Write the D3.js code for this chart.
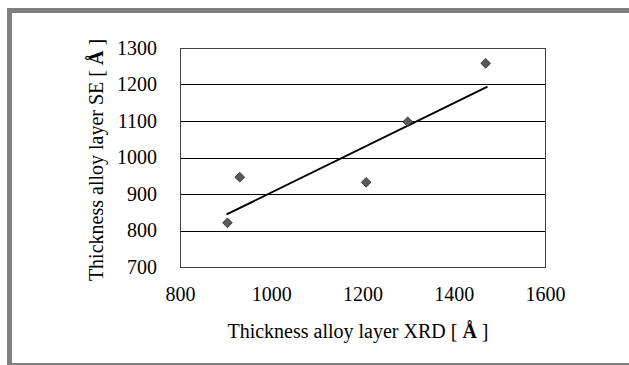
<!DOCTYPE html>
<html>
<head>
<meta charset="utf-8">
<script src="https://cdn.jsdelivr.net/npm/d3@7"></script>
<style>
  body { margin: 0; background: #fff; }
  text { font-family: "Liberation Serif", "Times New Roman", serif; fill: #000; }
</style>
</head>
<body>
<svg class="chart"></svg>
<script>
// Chart dimensions
var width = 629;
var height = 365;
var margin = {top: 48, right: 84, bottom: 98, left: 180};
var w = width - margin.left - margin.right;
var h = height - margin.top - margin.bottom;

// data
var xrd = [904, 931, 1208, 1299, 1470];
var se = [821, 946, 932, 1098, 1258];
// linear trendline endpoints (as drawn)
var trendX = [902, 1474];
var trendY = [844, 1194];
var xTicks = [800, 1000, 1200, 1400, 1600];
var yTicks = [700, 800, 900, 1000, 1100, 1200, 1300];

var svg = d3.select(".chart")
    .attr("width", width)
    .attr("height", height);

// outer frame: thick grey top/left, thin bottom
svg.append("rect").attr("x", 7).attr("y", 8).attr("width", width - 7).attr("height", 5).attr("fill", "#808080");
svg.append("rect").attr("x", 7).attr("y", 8).attr("width", 5).attr("height", height - 8).attr("fill", "#808080");
svg.append("rect").attr("x", 7).attr("y", 363).attr("width", width - 7).attr("height", 2).attr("fill", "#808080");

var chart = svg.append("g")
    .attr("transform", "translate(" + margin.left + "," + margin.top + ")");

var x = d3.scaleLinear()
    .domain([800, 1600])
    .range([0, w]);

var y = d3.scaleLinear()
    .domain([700, 1300])
    .range([h, 0]);

// gridlines
chart.selectAll(".grid")
    .data(yTicks)
    .enter().append("line")
    .attr("x1", 0)
    .attr("x2", w)
    .attr("y1", function(d) { return Math.round(y(d)) + 0.5; })
    .attr("y2", function(d) { return Math.round(y(d)) + 0.5; })
    .attr("stroke", "#000")
    .attr("stroke-width", 1);

// plot area border
chart.append("rect")
    .attr("x", 0.5)
    .attr("y", 0.5)
    .attr("width", w)
    .attr("height", h)
    .attr("fill", "none")
    .attr("stroke", "#404040");

// x axis
var xAxis = d3.axisBottom().scale(x).tickValues(xTicks).tickSize(0).tickPadding(20).tickFormat(d3.format("d"));
chart.append("g")
    .attr("transform", "translate(0," + h + ")")
    .call(xAxis)
    .call(function(g) { g.select(".domain").remove(); })
    .selectAll("text")
    .style("font-size", "20px")
    .style("font-family", "Liberation Serif");

// y axis
var yAxis = d3.axisLeft().scale(y).tickValues(yTicks).tickSize(0).tickPadding(23).tickFormat(d3.format("d"));
chart.append("g")
    .call(yAxis)
    .call(function(g) { g.select(".domain").remove(); })
    .selectAll("text")
    .style("font-size", "20px")
    .style("font-family", "Liberation Serif");

// x axis label
var xl = chart.append("text")
    .attr("x", (228 + 488) / 2 - margin.left)
    .attr("y", 338 - margin.top)
    .attr("text-anchor", "middle")
    .style("font-size", "20px");
xl.append("tspan").text("Thickness alloy layer XRD [ ");
xl.append("tspan").style("font-weight", "bold").text("Å");
xl.append("tspan").text(" ]");

// y axis label
var yl = chart.append("text")
    .attr("transform", "translate(" + (103 - margin.left) + "," + (160 - margin.top) + ") rotate(-90)")
    .attr("text-anchor", "middle")
    .style("font-size", "20px");
yl.append("tspan").text("Thickness alloy layer SE [ ");
yl.append("tspan").style("font-weight", "bold").text("Å");
yl.append("tspan").text(" ]");

// trendline
var line = d3.line()
    .x(function(d) { return x(d[0]); })
    .y(function(d) { return y(d[1]); });
chart.append("path")
    .datum(d3.zip(trendX, trendY))
    .attr("d", line)
    .attr("fill", "none")
    .attr("stroke", "#000")
    .attr("stroke-width", 2);

// diamond markers
var diamond = d3.symbol().type(d3.symbolDiamond2).size(60);
chart.selectAll(".pt")
    .data(d3.zip(xrd, se))
    .enter().append("path")
    .attr("d", diamond)
    .attr("transform", function(d) { return "translate(" + x(d[0]) + "," + y(d[1]) + ")"; })
    .attr("fill", "#595959")
    .attr("stroke", "#262626")
    .attr("stroke-width", 0.8);
</script>
</body>
</html>
